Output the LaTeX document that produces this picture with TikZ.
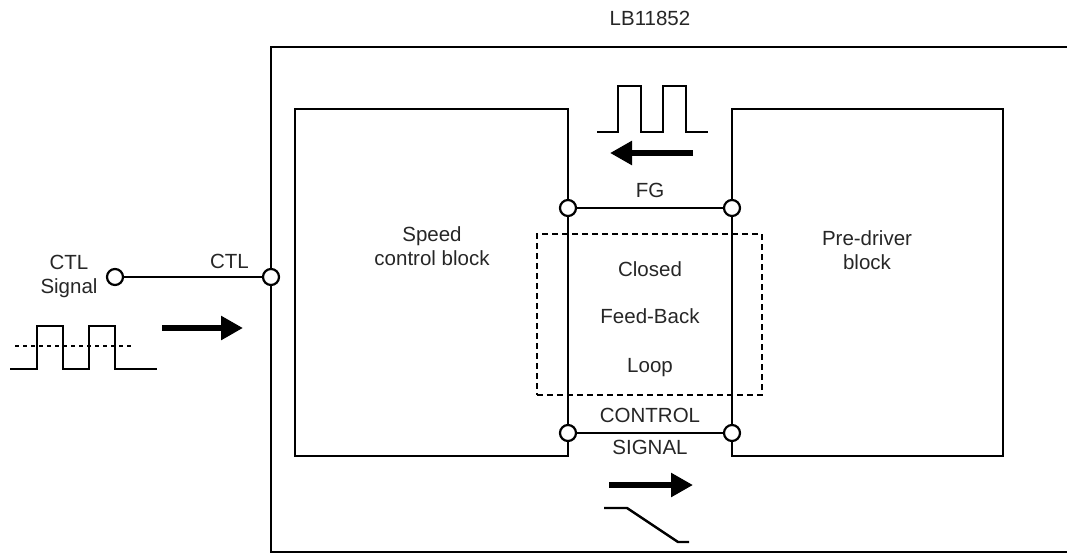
\documentclass[tikz,border=0pt]{standalone}
\usepackage{fontspec}
\setmainfont{Liberation Sans}
\usetikzlibrary{arrows.meta}

\tikzset{
  blk/.style={draw, line width=2.5pt, inner sep=0pt},
  pin/.style={circle, draw, fill=white, line width=2.2pt, minimum size=16pt, inner sep=0pt},
  lbl/.style={anchor=base, inner sep=0pt, align=center},
  fat/.style={line width=6pt, -{Triangle[length=22pt, width=23pt]}},
  wave/.style={line width=2.4pt},
}

\begin{document}
\begin{tikzpicture}[x=1pt, y=-1pt, line width=2.5pt,
  every node/.style={font=\fontsize{20.5}{24}\selectfont, text=black!85}]
  \useasboundingbox (0,0) rectangle (1067,554);
  % IC frame (open to the right)
  \node[lbl] (ic) at (650,25) {LB11852};
  \draw (1067,47) -- (271,47) -- (271,552) -- (1067,552);
  % blocks
  \node[blk, minimum width=273pt, minimum height=347pt] (speed) at (431.5,282.5) {};
  \node[blk, minimum width=271pt, minimum height=347pt] (predrv) at (867.5,282.5) {};
  \node[lbl] (speedtxt) at (432,265) {Speed\\control block};
  \node[lbl] (predrvtxt) at (867,269) {Pre-driver\\block};
  % closed loop
  \node[draw, dash pattern=on 6pt off 4pt, line width=2.2pt, minimum width=225pt, minimum height=161pt] (loop) at (649.5,314.5) {};
  \node[lbl] (closed) at (650,276) {Closed};
  \node[lbl] (fb) at (650,323) {Feed-Back};
  \node[lbl] (lp) at (650,372) {Loop};
  % pins and lines
  \node[pin] (fgl) at (568,208) {};
  \node[pin] (fgr) at (732,208) {};
  \node[pin] (csl) at (568,433) {};
  \node[pin] (csr) at (732,433) {};
  \node[pin] (ctlin) at (271,277) {};
  \node[pin] (ctlsig) at (115,277) {};
  \draw (fgl) -- (fgr);
  \draw (csl) -- (csr);
  \draw (ctlsig) -- (ctlin);
  \node[lbl] (fg) at (650,197) {FG};
  \node[lbl] (ctrl) at (650,422) {CONTROL};
  \node[lbl] (sig) at (650,454) {SIGNAL};
  \node[lbl] (ctl) at (229.5,268) {CTL};
  \node[lbl] (ctlname) at (69,293) {CTL\\Signal};
  % signal shapes
  \coordinate (fgtail) at (693,153);
  \coordinate (fghead) at (610,153);
  \draw[fat] (fgtail) -- (fghead);
  \draw[wave] (597,132) -- (618,132) -- (618,86) -- (641,86) -- (641,132)
    -- (663,132) -- (663,86) -- (686,86) -- (686,132) -- (708,132);
  \coordinate (cstail) at (609,485);
  \coordinate (cshead) at (693,485);
  \draw[fat] (cstail) -- (cshead);
  \draw[wave] (604,508) -- (627,508) -- (678,542) -- (689,542);
  \coordinate (ctltail) at (162,328);
  \coordinate (ctlhead) at (243,328);
  \draw[fat] (ctltail) -- (ctlhead);
  \draw[wave] (10,369) -- (37,369) -- (37,326) -- (63,326) -- (63,369)
    -- (89,369) -- (89,326) -- (115,326) -- (115,369) -- (157,369);
  \draw[wave, dash pattern=on 4pt off 4pt] (15,346) -- (132,346);
\end{tikzpicture}
\end{document}
